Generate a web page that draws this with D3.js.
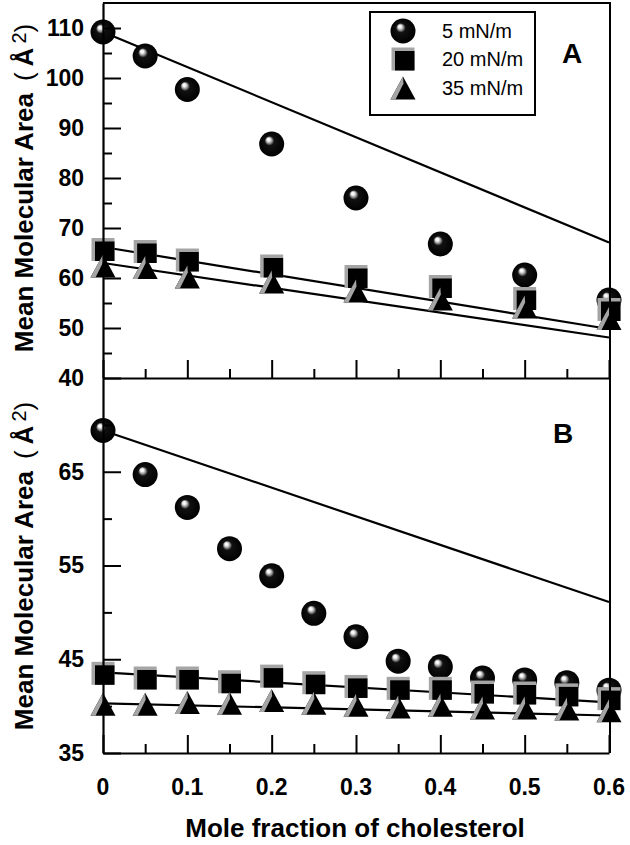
<!DOCTYPE html>
<html>
<head>
<meta charset="utf-8">
<script src="https://cdn.jsdelivr.net/npm/d3@7/dist/d3.min.js"></script>
<style>
  html, body { margin: 0; padding: 0; background: #fff; }
  svg { display: block; }
  text { font-family: "Liberation Sans", Arial, Helvetica, sans-serif; fill: #000; }
</style>
</head>
<body>
<svg id="chart" width="630" height="845"></svg>
<script>
// ---------- DATA ----------
const xTop = [0, 0.05, 0.1, 0.2, 0.3, 0.4, 0.5, 0.6];
const top5  = [109.2, 104.4, 97.7, 86.8, 76.0, 66.8, 60.6, 55.6];
const top20 = [65.7, 65.3, 63.6, 62.4, 60.3, 58.3, 55.9, 53.7];
const top35 = [62.4, 62.1, 60.2, 59.2, 57.4, 55.8, 54.2, 51.9];
const topLine5  = [[0, 109.2], [0.6, 67.1]];
const topLine20 = [[0, 66.2], [0.6, 49.8]];
const topLine35 = [[0, 63.0], [0.6, 48.1]];

const xBot = [0, 0.05, 0.1, 0.15, 0.2, 0.25, 0.3, 0.35, 0.4, 0.45, 0.5, 0.55, 0.6];
const bot5  = [69.4, 64.7, 61.2, 56.8, 53.9, 49.9, 47.4, 44.8, 44.2, 43.0, 42.8, 42.5, 41.7];
const bot20 = [43.5, 43.0, 43.0, 42.6, 43.2, 42.5, 42.1, 41.9, 41.9, 41.5, 41.4, 41.2, 40.8];
const bot35 = [40.2, 40.2, 40.4, 40.3, 40.6, 40.3, 40.1, 39.9, 40.1, 39.8, 39.8, 39.7, 39.5];
const botLine5  = [[0, 69.4], [0.6, 51.1]];
const botLine20 = [[0, 43.6], [0.6, 40.4]];
const botLine35 = [[0, 40.3], [0.6, 39.0]];

const xMajor = [0, 0.1, 0.2, 0.3, 0.4, 0.5, 0.6];
const xMinor = [0.05, 0.15, 0.25, 0.35, 0.45, 0.55];
const yTopMajor = [40, 50, 60, 70, 80, 90, 100, 110];
const yTopMinor = [45, 55, 65, 75, 85, 95, 105];
const yBotMajor = [35, 45, 55, 65];
const yBotMinor = [40, 50, 60, 70];
const legendLabels = ["5 mN/m", "20 mN/m", "35 mN/m"];
const panelLabels = ["A", "B"];
const xTitle = "Mole fraction of cholesterol";

// ---------- SCALES ----------
const svg = d3.select("#chart");
const x = d3.scaleLinear().domain([0, 0.6]).range([103, 609]);
const yA = d3.scaleLinear().domain([40, 115]).range([378, 3]);
const yB = d3.scaleLinear().domain([35, 75]).range([753, 378]);

// defs: sphere gradient
const defs = svg.append("defs");
const grad = defs.append("radialGradient").attr("id", "sphere")
  .attr("cx", "50%").attr("cy", "50%").attr("r", "50%")
  .attr("fx", "36%").attr("fy", "30%");
grad.append("stop").attr("offset", "0%").attr("stop-color", "#fff");
grad.append("stop").attr("offset", "12%").attr("stop-color", "#f4f4f4");
grad.append("stop").attr("offset", "24%").attr("stop-color", "#999");
grad.append("stop").attr("offset", "38%").attr("stop-color", "#111");
grad.append("stop").attr("offset", "100%").attr("stop-color", "#000");

// ---------- MARKERS ----------
function drawCircle(g, cx, cy) {
  g.append("circle").attr("cx", cx).attr("cy", cy).attr("r", 12.5)
    .attr("fill", "url(#sphere)");
}
function drawSquare(g, cx, cy) {
  const h = 11.5;
  g.append("rect").attr("x", cx - h).attr("y", cy - h).attr("width", 2 * h).attr("height", 2 * h)
    .attr("fill", "#a5a5a5");
  g.append("rect").attr("x", cx - h + 3.5).attr("y", cy - h + 3.5).attr("width", 2 * h - 3.5).attr("height", 2 * h - 3.5)
    .attr("fill", "#000");
}
function drawTriangle(g, cx, cy) {
  const w = 12.5, h = 11.5;
  g.append("path")
    .attr("d", `M${cx},${cy - h}L${cx + w},${cy + h}L${cx - w},${cy + h}Z`)
    .attr("fill", "#000");
  g.append("path")
    .attr("d", `M${cx},${cy - h}L${cx - w},${cy + h}L${cx - w + 5},${cy + h}L${cx + 0.5},${cy - h + 7}Z`)
    .attr("fill", "#a5a5a5");
}

const line = (ys) => d3.line().x(d => x(d[0])).y(d => ys(d[1]));

function panel(ys, xs, s5, s20, s35, l5, l20, l35, majorY, minorY, yTop) {
  const g = svg.append("g");
  [l5, l20, l35].forEach(l => {
    g.append("path").datum(l).attr("d", line(ys)).attr("fill", "none")
      .attr("stroke", "#000").attr("stroke-width", 2.2);
  });
  const mg = g.append("g");
  xs.forEach((xv, i) => drawCircle(mg, x(xv), ys(s5[i])));
  xs.forEach((xv, i) => drawSquare(mg, x(xv), ys(s20[i])));
  xs.forEach((xv, i) => drawTriangle(mg, x(xv), ys(s35[i])));

  const yAx = d3.axisLeft(ys).tickValues(majorY).tickSize(-18).tickSizeOuter(0).tickPadding(19);
  const ya = svg.append("g").attr("transform", `translate(${x(0)},0)`).call(yAx);
  ya.select(".domain").attr("stroke-width", 2.2);
  ya.selectAll(".tick line").attr("stroke-width", 2);
  ya.selectAll(".tick text").style("font-size", "23px").style("font-weight", "bold");
  const ym = svg.append("g").attr("transform", `translate(${x(0)},0)`)
    .call(d3.axisLeft(ys).tickValues(minorY).tickSize(-9).tickSizeOuter(0).tickFormat(""));
  ym.select(".domain").remove();
  ym.selectAll(".tick line").attr("stroke-width", 2);

  const yBase = ys.range()[0];
  const xa = svg.append("g").attr("transform", `translate(0,${yBase})`)
    .call(d3.axisBottom(x).tickValues(xMajor).tickSize(-18).tickSizeOuter(0).tickFormat(""));
  xa.select(".domain").attr("stroke-width", 2.2);
  xa.selectAll(".tick line").attr("stroke-width", 2);
  const xm = svg.append("g").attr("transform", `translate(0,${yBase})`)
    .call(d3.axisBottom(x).tickValues(xMinor).tickSize(-9).tickSizeOuter(0).tickFormat(""));
  xm.select(".domain").remove();
  xm.selectAll(".tick line").attr("stroke-width", 2);

  svg.append("line").attr("x1", x(0.6) + 1).attr("x2", x(0.6) + 1)
    .attr("y1", ys.range()[1]).attr("y2", ys.range()[0])
    .attr("stroke", "#000").attr("stroke-width", 2);
  if (yTop) {
    svg.append("line").attr("x1", x(0)).attr("x2", x(0.6) + 2)
      .attr("y1", ys.range()[1]).attr("y2", ys.range()[1])
      .attr("stroke", "#000").attr("stroke-width", 2);
  }
}

panel(yA, xTop, top5, top20, top35, topLine5, topLine20, topLine35, yTopMajor, yTopMinor, true);
panel(yB, xBot, bot5, bot20, bot35, botLine5, botLine20, botLine35, yBotMajor, yBotMinor, false);

// bottom x tick labels
svg.append("g").selectAll("text").data(xMajor).join("text")
  .attr("x", d => x(d)).attr("y", 795).attr("text-anchor", "middle")
  .style("font-size", "23px").style("font-weight", "bold")
  .text(d => d === 0 ? "0" : d3.format(".1f")(d));

// x title
svg.append("text").attr("x", 355).attr("y", 837).attr("text-anchor", "middle")
  .style("font-size", "26px").style("font-weight", "bold").text(xTitle);

// y titles
function yTitle(cy) {
  const t = svg.append("text").attr("transform", `translate(33,${cy}) rotate(-90)`)
    .attr("text-anchor", "middle").style("font-size", "26px");
  t.append("tspan").style("font-weight", "bold").text("Mean Molecular Area");
  t.append("tspan").style("font-weight", "normal").attr("dx", 12).text("(");
  t.append("tspan").style("font-weight", "bold").attr("dx", 6).text("Å");
  t.append("tspan").style("font-weight", "normal").style("font-size", "20px").attr("dx", 4).attr("dy", -7).text("2");
  t.append("tspan").style("font-weight", "normal").attr("dy", 7).text(")");
}
yTitle(188);
yTitle(566);

// panel labels
svg.append("text").attr("x", 572).attr("y", 63).attr("text-anchor", "middle")
  .style("font-size", "28px").style("font-weight", "bold").text(panelLabels[0]);
svg.append("text").attr("x", 563).attr("y", 443).attr("text-anchor", "middle")
  .style("font-size", "28px").style("font-weight", "bold").text(panelLabels[1]);

// legend
const lg = svg.append("g");
lg.append("rect").attr("x", 370).attr("y", 12).attr("width", 165).attr("height", 103)
  .attr("fill", "#fff").attr("stroke", "#000").attr("stroke-width", 2);
const legendY = [31, 59, 88];
const drawers = [drawCircle, drawSquare, drawTriangle];
legendLabels.forEach((lab, i) => {
  drawers[i](lg, 403, legendY[i]);
  lg.append("text").attr("x", 442).attr("y", legendY[i] + 7)
    .style("font-size", "20px").text(lab);
});
</script>
</body>
</html>
